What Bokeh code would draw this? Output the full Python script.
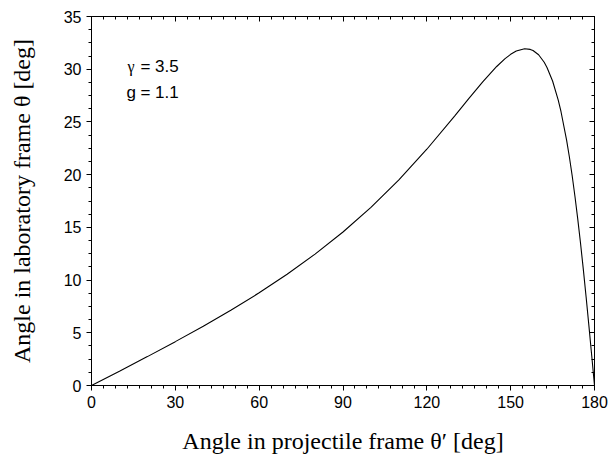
from bokeh.plotting import figure
from bokeh.models import (Range1d, LinearAxis, SingleIntervalTicker, Label,
                          CustomJSTickFormatter)
from bokeh.embed import file_html
from bokeh.resources import INLINE

# Angle in projectile frame (deg) and angle in laboratory frame (deg)
theta_proj = [0, 10, 20, 30, 40, 50, 60, 70, 80, 90, 100, 110, 120, 130, 135,
              140, 145, 148, 150, 152, 155, 157, 158, 160, 162, 163, 165, 167,
              168, 170, 171, 172, 173, 174, 175, 176, 177, 178, 179, 180]
theta_lab = [0.0, 1.36, 2.74, 4.16, 5.62, 7.16, 8.79, 10.55, 12.46, 14.56, 16.90,
             19.50, 22.41, 25.58, 27.21, 28.80, 30.26, 31.00, 31.41, 31.72, 31.94,
             31.88, 31.77, 31.37, 30.66, 30.17, 28.88, 27.09, 25.99, 23.30, 21.70,
             19.92, 17.95, 15.81, 13.49, 11.01, 8.39, 5.66, 2.85, 0.0]

x_ticks_interval = 30
y_ticks_interval = 5
annot_symbols = ["\u03b3", "g"]
annot_values = ["= 3.5", "= 1.1"]
annot_x = 12.5
annot_y = [30.3, 27.8]

W, H = 609, 464
p = figure(width=W, height=H, output_backend="svg", toolbar_location=None,
           x_range=Range1d(0, 180), y_range=Range1d(0, 35),
           min_border_left=91, min_border_right=15, min_border_top=16,
           min_border_bottom=79, x_axis_location=None, y_axis_location=None)
p.xgrid.visible = False
p.ygrid.visible = False
p.outline_line_color = "black"
p.outline_line_width = 1
p.background_fill_color = "white"
p.border_fill_color = "white"

def style_axis(ax, interval, nminor, labels=True, tick_out=True):
    ax.ticker = SingleIntervalTicker(interval=interval, num_minor_ticks=nminor)
    ax.axis_line_color = "black"
    ax.major_tick_line_color = "black"
    ax.minor_tick_line_color = "black"
    if tick_out:
        ax.major_tick_out = 5
        ax.major_tick_in = 0
        ax.minor_tick_out = 3
        ax.minor_tick_in = 0
    else:
        ax.major_tick_out = 0
        ax.major_tick_in = 5
        ax.minor_tick_out = 0
        ax.minor_tick_in = 3
    if labels:
        ax.major_label_text_font = "Liberation Sans"
        ax.major_label_text_font_size = "16px"
        ax.major_label_text_color = "black"
        ax.major_label_standoff = 5
    else:
        ax.formatter = CustomJSTickFormatter(code="return ''")
        ax.major_label_text_font_size = "0px"
        ax.major_label_standoff = 0

xb = LinearAxis(axis_label="Angle in projectile frame \u03b8\u2032 [deg]")
style_axis(xb, x_ticks_interval, 7)
xb.axis_label_text_font = "Liberation Serif"
xb.axis_label_text_font_size = "24px"
xb.axis_label_text_font_style = "normal"
xb.axis_label_text_color = "black"
xb.axis_label_standoff = 17
p.add_layout(xb, "below")

yl = LinearAxis(axis_label="Angle in laboratory frame \u03b8 [deg]")
style_axis(yl, y_ticks_interval, 4)
yl.axis_label_text_font = "Liberation Serif"
yl.axis_label_text_font_size = "24px"
yl.axis_label_text_font_style = "normal"
yl.axis_label_text_color = "black"
yl.axis_label_standoff = 26
p.add_layout(yl, "left")

yr = LinearAxis()
style_axis(yr, y_ticks_interval, 4, labels=False, tick_out=False)
p.add_layout(yr, "right")

xt = LinearAxis()
style_axis(xt, x_ticks_interval, 7, labels=False, tick_out=False)
p.add_layout(xt, "above")

p.line(theta_proj, theta_lab, line_color="black", line_width=1.1)

for i, (sym, val, yy) in enumerate(zip(annot_symbols, annot_values, annot_y)):
    if i == 0:
        p.add_layout(Label(x=annot_x, y=yy, text=sym, text_font="Liberation Serif",
                           text_font_size="16px", text_color="black", x_offset=1,
                           text_baseline="alphabetic", text_align="left"))
    else:
        p.add_layout(Label(x=annot_x, y=yy, text=sym, text_font="Liberation Sans",
                           text_font_size="17px", text_color="black",
                           text_baseline="alphabetic", text_align="left"))
    p.add_layout(Label(x=annot_x, y=yy, text=val, text_font="Liberation Sans",
                       text_font_size="17px", text_color="black", x_offset=14,
                       text_baseline="alphabetic", text_align="left"))

open("out.html", "w").write(file_html(p, INLINE))
